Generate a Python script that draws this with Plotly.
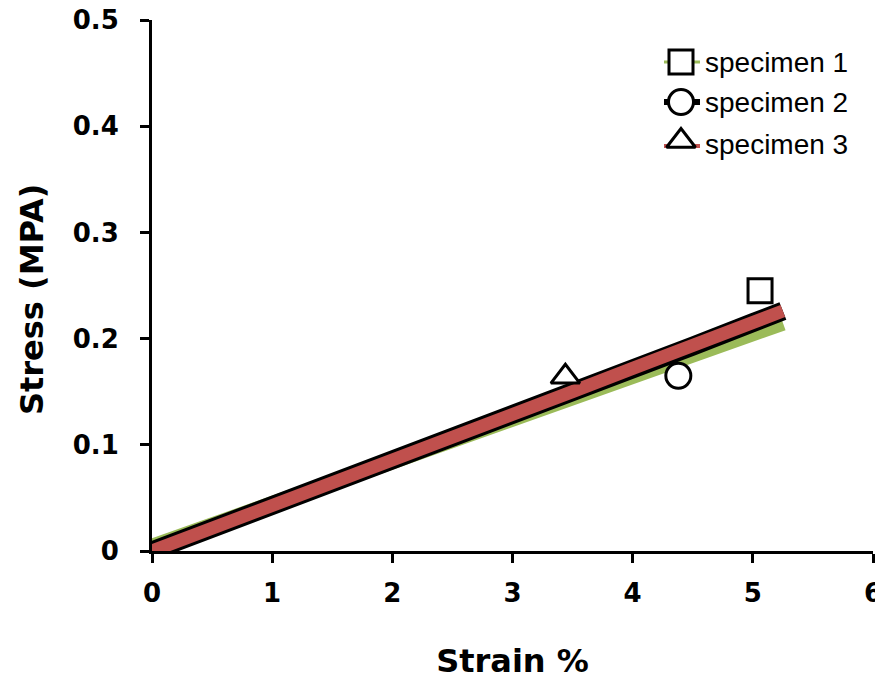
import plotly.graph_objects as go

# ---- data ----
strain = [0, 0.5, 1.0, 1.5, 2.0, 2.5, 3.0, 3.5, 4.0, 4.5, 5.0, 5.25]
stress_s1 = [0.004, 0.024, 0.044, 0.064, 0.084, 0.104, 0.124, 0.144, 0.164, 0.184, 0.205, 0.215]
stress_s2 = [0.000, 0.021, 0.043, 0.064, 0.086, 0.107, 0.129, 0.150, 0.172, 0.193, 0.215, 0.226]
stress_s3 = [0.000, 0.021, 0.043, 0.064, 0.086, 0.107, 0.129, 0.150, 0.172, 0.193, 0.215, 0.226]

marker_x = [5.06, 4.38, 3.44]
marker_y = [0.245, 0.165, 0.164]
names = ["specimen 1", "specimen 2", "specimen 3"]
symbols = ["square", "circle", "triangle-up"]
line_colors = ["#9BBB59", "#000000", "#C0504D"]

x_ticks = [0, 1, 2, 3, 4, 5, 6]
y_ticks = [0, 0.1, 0.2, 0.3, 0.4, 0.5]
y_tick_text = ["0", "0.1", "0.2", "0.3", "0.4", "0.5"]

W, H = 883, 681
OFF = 8  # page body margin
PL, PR, PT, PB = 152, 873, 20, 551  # plot area in window pixels

fig = go.Figure()
fig.add_trace(go.Scatter(x=strain, y=stress_s1, mode="lines",
                         line=dict(color=line_colors[0], width=16), showlegend=False))
fig.add_trace(go.Scatter(x=strain, y=stress_s2, mode="lines",
                         line=dict(color=line_colors[1], width=19), showlegend=False))
fig.add_trace(go.Scatter(x=strain, y=stress_s3, mode="lines",
                         line=dict(color=line_colors[2], width=13), showlegend=False))

msizes = [24, 25, 25]
for i in range(3):
    fig.add_trace(go.Scatter(x=[marker_x[i]], y=[marker_y[i]], mode="markers",
                             marker=dict(symbol=symbols[i], size=msizes[i], color="white",
                                         line=dict(width=3, color="black")),
                             showlegend=False, cliponaxis=False))

# ---- custom legend on an overlay axis in window-pixel units ----
leg_y = [62, 102, 141]
leg_line_w = [3, 6, 4]
for i in range(3):
    fig.add_trace(go.Scatter(x=[664, 700], y=[leg_y[i] + (5 if i == 2 else 0)] * 2, mode="lines",
                             line=dict(color=line_colors[i], width=leg_line_w[i]),
                             xaxis="x2", yaxis="y2", showlegend=False))
    fig.add_trace(go.Scatter(x=[681], y=[leg_y[i]], mode="markers",
                             marker=dict(symbol=symbols[i], size=msizes[i], color="white",
                                         line=dict(width=3, color="black")),
                             xaxis="x2", yaxis="y2", showlegend=False, cliponaxis=False))
    fig.add_annotation(x=703, y=leg_y[i] + (3 if i == 2 else 0), xref="x2", yref="y2",
                       text=names[i], showarrow=False, xanchor="left", yanchor="middle",
                       font=dict(family="Liberation Sans, Arial", size=28, color="black"))

axis_font = dict(family="DejaVu Sans, Verdana", size=26, color="black", weight="bold")
title_font = dict(family="DejaVu Sans, Verdana", size=32, color="black", weight="bold")

# y-axis title as annotation (positioned like the reference)
fig.add_annotation(x=(32 - PL) / (PR - PL), y=(PB - 300) / (PB - PT), xref="paper", yref="paper",
                   text="Stress (MPA)", textangle=-90, showarrow=False,
                   xanchor="center", yanchor="middle", font=title_font)

fig.update_layout(
    width=W, height=H,
    margin=dict(l=PL - OFF, r=W - (PR - OFF), t=PT - OFF, b=H - (PB - OFF), autoexpand=False),
    plot_bgcolor="white", paper_bgcolor="white",
    xaxis=dict(range=[0, 6], tickvals=x_ticks, ticks="outside", ticklen=9, tickwidth=3,
               tickcolor="black", showline=True, linewidth=3, linecolor="black",
               showgrid=False, zeroline=False, tickfont=axis_font, automargin=False,
               ticklabeloverflow="allow", ticklabelstandoff=8,
               title=dict(text="Strain %", font=title_font, standoff=43)),
    yaxis=dict(range=[0, 0.5], tickvals=y_ticks, ticktext=y_tick_text, ticks="outside",
               ticklen=9, tickwidth=3, tickcolor="black", showline=True, linewidth=3,
               linecolor="black", showgrid=False, zeroline=False, tickfont=axis_font,
               automargin=False, ticklabeloverflow="allow", ticklabelstandoff=16),
    xaxis2=dict(range=[PL, PR], overlaying="x", anchor="y2", visible=False, fixedrange=True),
    yaxis2=dict(range=[PB, PT], overlaying="y", anchor="x2", visible=False, fixedrange=True),
    showlegend=False,
)

fig.write_html("out.html")
